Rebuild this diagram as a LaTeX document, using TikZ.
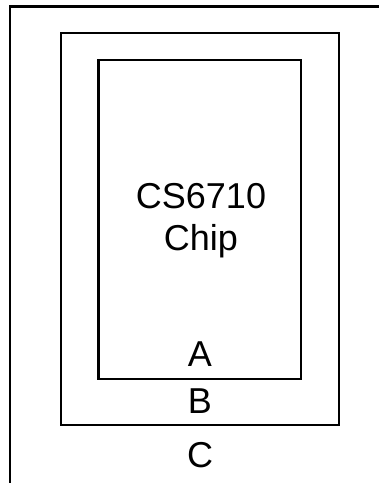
\documentclass[tikz,border=0pt]{standalone}
\usepackage{fontspec}
\setmainfont{Liberation Sans}
\begin{document}
\begin{tikzpicture}[x=1pt, y=-1pt, line join=miter,
    regionbox/.style={draw=black, line width=2.8pt},
    regionlabel/.style={anchor=base, inner sep=0pt, font=\fontsize{36}{42}\selectfont}]
  \useasboundingbox (0,0) rectangle (379,483);
  \clip (0,0) rectangle (379,483);
  % region C (runs off the page)
  \draw[regionbox] (10,6.5) rectangle (420,520);
  % region B
  \draw[regionbox] (61,33) rectangle (339,425);
  % chip
  \draw[regionbox] (98.5,60) rectangle (301,379);
  \node[regionlabel] (chipname) at (201,208) {CS6710};
  \node[regionlabel] (chipword) at (201,250) {Chip};
  \node[regionlabel] (labelA) at (200,366) {A};
  \node[regionlabel] (labelB) at (200,413) {B};
  \node[regionlabel] (labelC) at (200,467) {C};
\end{tikzpicture}
\end{document}
